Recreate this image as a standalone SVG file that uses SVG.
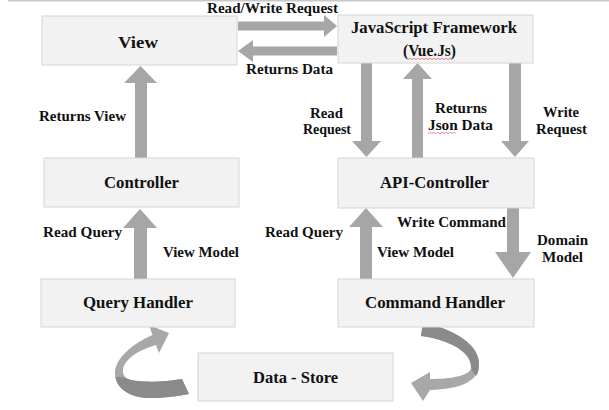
<svg xmlns="http://www.w3.org/2000/svg" width="609" height="410" viewBox="0 0 609 410">
<style>
.box{fill:#f2f2f2;stroke:#d6d6d6;stroke-width:1}
.nl{font-family:"Liberation Serif","Times New Roman",serif;font-weight:bold;font-size:16px;fill:#111}
.el{font-family:"Liberation Serif","Times New Roman",serif;font-weight:bold;font-size:14px;fill:#111}
.ar{fill:#a6a6a6}
.cl{fill:#a8a8a8}
.cd{fill:#8a8a8a}
.sq{fill:none;stroke:#e07070;stroke-width:0.8}
</style>
<rect width="609" height="410" fill="#ffffff"/>
<line x1="8" y1="0.8" x2="609" y2="0.8" stroke="#c8c8c8" stroke-width="1.6"/>

<g id="connectors">
  <polygon class="ar" points="238,21.5 324,21.5 324,15 337,26 324,37 324,30.5 238,30.5"/>
  <polygon class="ar" points="337,46.5 253,46.5 253,40 238,51 253,62 253,55.5 337,55.5"/>
  <polygon class="ar" points="135,158 135,83 124,83 140.5,66 157,83 147,83 147,158"/>
  <polygon class="ar" points="134,279 134,228 123,228 140,209 157,228 147,228 147,279"/>
  <polygon class="ar" points="361,63 372,63 372,141 381,141 366.5,157 352,141 361,141"/>
  <polygon class="ar" points="412,158 412,79 403,79 417.5,63 432,79 423,79 423,158"/>
  <polygon class="ar" points="509,63 521,63 521,141 529,141 515,157 501,141 509,141"/>
  <polygon class="ar" points="360,279 360,227 349,227 366,208 383,227 372,227 372,279"/>
  <polygon class="ar" points="507,208 519,208 519,252 531,252 513,278 495,252 507,252"/>
  <g id="curve-left">
    <path class="cl" d="M159,353 L169,333 L149,325 L152.5,335 C132,344 116,358 115,372 C114,388 130,398 150,398 C165,398 178,396 189,394 L182,379 C165,382 140,383 128,379 C121,376 121,366 129,359 C136,352 146,348 156,345 Z"/>
    <path class="cd" d="M115.5,377 C118,391 133,398 150,398 C165,398 178,396 189,394 L182,379 C165,382 140,383 128,379 C124,378 120,376 115.5,377 Z"/>
  </g>
  <g id="curve-right">
    <path class="cl" d="M423,322 C455,330 480,345 479,365 C478,382 460,389 430,390 L423,401 L411,383 L430,372 L430,379 C450,379 470,376 471,368 C472,352 450,340 421,336 Z"/>
    <path class="cd" d="M423,322 C455,330 480,345 479,365 C479,370 478,373 476,376 C474,373 472,371 471,368 C472,352 450,340 421,336 Z"/>
  </g>
</g>

<g id="view">
  <rect class="box" x="42" y="16" width="195" height="49"/>
  <text class="nl" x="118" y="48" textLength="40" lengthAdjust="spacingAndGlyphs">View</text>
</g>
<g id="js-framework">
  <rect class="box" x="338" y="15" width="195" height="48"/>
  <text class="nl" x="351" y="33" textLength="166" lengthAdjust="spacingAndGlyphs">JavaScript Framework</text>
  <text class="nl" x="403" y="56" textLength="53" lengthAdjust="spacingAndGlyphs">(Vue.Js)</text>
  <path class="sq" d="M408,59.5 l2,-1.2 l2,1.2 l2,-1.2 l2,1.2 l2,-1.2 l2,1.2 l2,-1.2 l2,1.2 l2,-1.2 l2,1.2 l2,-1.2 l2,1.2 l2,-1.2 l2,1.2 l2,-1.2 l2,1.2 l2,-1.2 l2,1.2 l2,-1.2 l2,1.2 l2,-1.2 l2,1.2"/>
</g>
<g id="controller">
  <rect class="box" x="44" y="158" width="195" height="49"/>
  <text class="nl" x="104" y="188" textLength="75" lengthAdjust="spacingAndGlyphs">Controller</text>
</g>
<g id="api-controller">
  <rect class="box" x="338" y="158" width="196" height="50"/>
  <text class="nl" x="380" y="188" textLength="109" lengthAdjust="spacingAndGlyphs">API-Controller</text>
</g>
<g id="query-handler">
  <rect class="box" x="41" y="279" width="194" height="48"/>
  <text class="nl" x="83" y="308" textLength="110" lengthAdjust="spacingAndGlyphs">Query Handler</text>
</g>
<g id="command-handler">
  <rect class="box" x="338" y="279" width="196" height="48"/>
  <text class="nl" x="365" y="308" textLength="140" lengthAdjust="spacingAndGlyphs">Command Handler</text>
</g>
<g id="data-store">
  <rect class="box" x="198" y="353" width="195" height="48"/>
  <text class="nl" x="253" y="383" textLength="85" lengthAdjust="spacingAndGlyphs">Data - Store</text>
</g>

<g id="labels">
  <text class="el" x="207" y="13" textLength="131" lengthAdjust="spacingAndGlyphs">Read/Write Request</text>
  <text class="el" x="246" y="74" textLength="87" lengthAdjust="spacingAndGlyphs">Returns Data</text>
  <text class="el" x="39" y="121" textLength="87" lengthAdjust="spacingAndGlyphs">Returns View</text>
  <text class="el" x="310" y="118" textLength="33" lengthAdjust="spacingAndGlyphs">Read</text>
  <text class="el" x="303" y="134" textLength="48" lengthAdjust="spacingAndGlyphs">Request</text>
  <text class="el" x="435" y="113" textLength="52" lengthAdjust="spacingAndGlyphs">Returns</text>
  <text class="el" x="428" y="130" textLength="65" lengthAdjust="spacingAndGlyphs">Json Data</text>
  <path class="sq" d="M428,133.5 l2,-1.2 l2,1.2 l2,-1.2 l2,1.2 l2,-1.2 l2,1.2 l2,-1.2 l2,1.2 l2,-1.2 l2,1.2 l2,-1.2 l2,1.2 l2,-1.2 l2,1.2"/>
  <text class="el" x="543" y="117" textLength="36" lengthAdjust="spacingAndGlyphs">Write</text>
  <text class="el" x="536" y="134" textLength="51" lengthAdjust="spacingAndGlyphs">Request</text>
  <text class="el" x="43" y="237" textLength="79" lengthAdjust="spacingAndGlyphs">Read Query</text>
  <text class="el" x="163" y="257" textLength="76" lengthAdjust="spacingAndGlyphs">View Model</text>
  <text class="el" x="265" y="237" textLength="78" lengthAdjust="spacingAndGlyphs">Read Query</text>
  <text class="el" x="397" y="227" textLength="109" lengthAdjust="spacingAndGlyphs">Write Command</text>
  <text class="el" x="377" y="257" textLength="77" lengthAdjust="spacingAndGlyphs">View Model</text>
  <text class="el" x="537" y="245" textLength="51" lengthAdjust="spacingAndGlyphs">Domain</text>
  <text class="el" x="542" y="262" textLength="41" lengthAdjust="spacingAndGlyphs">Model</text>
</g>
</svg>
